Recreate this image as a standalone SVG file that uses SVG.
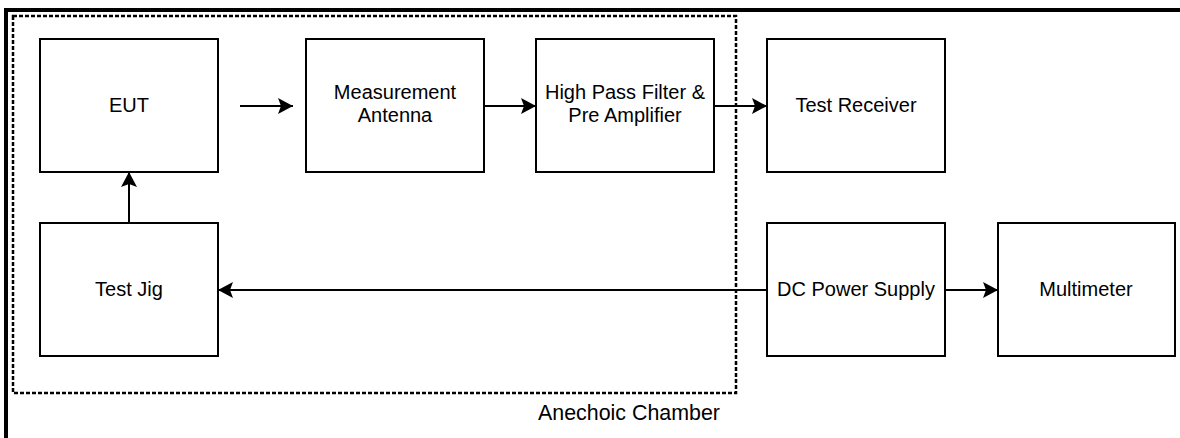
<svg xmlns="http://www.w3.org/2000/svg" width="1180" height="438" viewBox="0 0 1180 438">
<style>
.box{fill:#fff;stroke:#000;stroke-width:2}
.t{font-family:"Liberation Sans",Arial,sans-serif;font-size:20px;fill:#000;text-anchor:middle}
.c{stroke:#000;stroke-width:2;fill:none;marker-end:url(#ah)}
</style>
<defs>
<marker id="ah" markerUnits="userSpaceOnUse" markerWidth="18" markerHeight="18" refX="15" refY="8" orient="auto">
<path d="M0,0 L15,8 L0,16 L3,8 Z" fill="#000"/>
</marker>
</defs>
<rect width="1180" height="438" fill="#fff"/>
<g id="frame">
<path d="M6,438 V10 H1180" stroke="#000" stroke-width="4" fill="none"/>
</g>
<g id="chamber">
<rect x="13" y="16" width="723" height="377" fill="none" stroke="#000" stroke-width="2.5" stroke-dasharray="4 2"/>
<text class="t" x="629" y="420" style="font-size:21.4px">Anechoic Chamber</text>
</g>
<g id="connectors">
<line class="c" x1="240" y1="106" x2="293" y2="106"/>
<line class="c" x1="484" y1="106" x2="536" y2="106"/>
<line class="c" x1="714" y1="106" x2="767" y2="106"/>
<line class="c" x1="129" y1="223" x2="129" y2="172"/>
<line class="c" x1="767" y1="290" x2="218" y2="290"/>
<line class="c" x1="945" y1="290" x2="998" y2="290"/>
</g>
<g id="eut"><rect class="box" x="40" y="39" width="178" height="133"/><text class="t" x="129" y="112">EUT</text></g>
<g id="antenna"><rect class="box" x="306" y="39" width="178" height="133"/><text class="t" x="395" y="99">Measurement</text><text class="t" x="395" y="122">Antenna</text></g>
<g id="hpf"><rect class="box" x="536" y="39" width="178" height="133"/><text class="t" x="625" y="99">High Pass Filter &amp;</text><text class="t" x="625" y="122">Pre Amplifier</text></g>
<g id="receiver"><rect class="box" x="767" y="39" width="178" height="133"/><text class="t" x="856" y="112">Test Receiver</text></g>
<g id="jig"><rect class="box" x="40" y="223" width="178" height="133"/><text class="t" x="129" y="296">Test Jig</text></g>
<g id="dc"><rect class="box" x="767" y="223" width="178" height="133"/><text class="t" x="856" y="296">DC Power Supply</text></g>
<g id="multimeter"><rect class="box" x="998" y="223" width="177" height="133"/><text class="t" x="1086" y="296">Multimeter</text></g>
</svg>
